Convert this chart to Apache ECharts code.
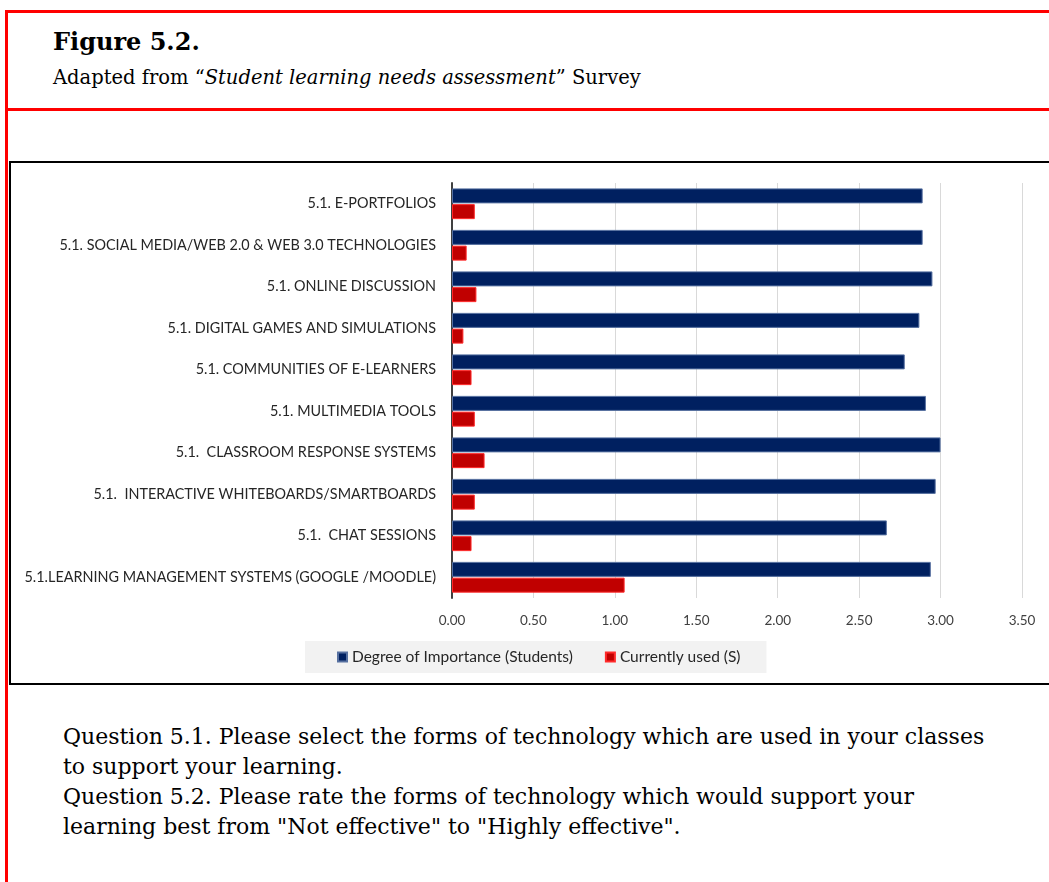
<!DOCTYPE html>
<html>
<head>
<meta charset="utf-8">
<script src="https://cdn.jsdelivr.net/npm/echarts@6/dist/echarts.min.js"></script>
<style>
  html, body { margin: 0; padding: 0; background: #fff; }
  body { width: 1049px; height: 882px; overflow: hidden; position: relative; }
  .frame-top { position: absolute; left: 5px; top: 10px; width: 1100px; height: 3px; background: #ff0000; }
  .frame-sep { position: absolute; left: 5px; top: 108px; width: 1100px; height: 3px; background: #ff0000; }
  .frame-left { position: absolute; left: 5px; top: 10px; width: 3px; height: 900px; background: #ff0000; }
  .title { position: absolute; left: 53px; top: 27px; font-family: "DejaVu Serif", serif; font-weight: bold; font-size: 24px; color: #000; }
  .subtitle { position: absolute; left: 53px; top: 66px; font-family: "DejaVu Serif", serif; font-size: 19.5px; color: #000; white-space: nowrap; }
  .box { position: absolute; left: 9px; top: 161px; width: 1100px; height: 524px; border: 2px solid #000; box-sizing: border-box; }
  #chart { position: absolute; left: 0; top: 0; width: 1096px; height: 520px; }
  .questions { position: absolute; left: 63px; top: 722px; font-family: "DejaVu Serif", serif; font-size: 22px; line-height: 30px; color: #000; white-space: nowrap; }
</style>
</head>
<body>
<div class="frame-top"></div>
<div class="frame-sep"></div>
<div class="frame-left"></div>
<div class="title">Figure 5.2.</div>
<div class="subtitle">Adapted from “<i>Student learning needs assessment</i>” Survey</div>
<div class="box"><div id="chart"></div></div>
<div class="questions">
  Question 5.1. Please select the forms of technology which are used in your classes<br>
  to support your learning.<br>
  Question 5.2. Please rate the forms of technology which would support your<br>
  learning best from "Not effective" to "Highly effective".
</div>
<script>
// Technology forms, listed top to bottom
const categories = [
  '5.1. E-PORTFOLIOS',
  '5.1. SOCIAL MEDIA/WEB 2.0 & WEB 3.0 TECHNOLOGIES',
  '5.1. ONLINE DISCUSSION',
  '5.1. DIGITAL GAMES AND SIMULATIONS',
  '5.1. COMMUNITIES OF E-LEARNERS',
  '5.1. MULTIMEDIA TOOLS',
  '5.1.  CLASSROOM RESPONSE SYSTEMS',
  '5.1.  INTERACTIVE WHITEBOARDS/SMARTBOARDS',
  '5.1.  CHAT SESSIONS',
  '5.1.LEARNING MANAGEMENT SYSTEMS (GOOGLE /MOODLE)'
];
const importance = [2.89, 2.89, 2.95, 2.87, 2.78, 2.91, 3.00, 2.97, 2.67, 2.94];
const currentlyUsed = [0.14, 0.09, 0.15, 0.07, 0.12, 0.14, 0.20, 0.14, 0.12, 1.06];
const seriesNames = ['Degree of Importance (Students)', 'Currently used (S)'];

const chart = echarts.init(document.getElementById('chart'), null, { renderer: 'canvas' });
const labelFont = 'Lato, "Open Sans", sans-serif';

chart.setOption({
  animation: false,
  grid: { left: 441, top: 20, width: 570, height: 415 },
  legend: {
    data: seriesNames,
    left: 294, top: 478,
    backgroundColor: '#f2f2f2',
    padding: [8, 26, 8, 32],
    itemGap: 32,
    itemWidth: 9, itemHeight: 9,
    icon: 'rect',
    textStyle: { fontFamily: labelFont, fontSize: 15.5, color: '#262626' }
  },
  xAxis: {
    type: 'value',
    min: 0, max: 3.5, interval: 0.5,
    axisLine: { show: false },
    axisTick: { show: false },
    splitLine: { lineStyle: { color: '#d9d9d9', width: 1 } },
    axisLabel: {
      formatter: v => v.toFixed(2),
      fontFamily: labelFont, fontSize: 13.5, color: '#404040', margin: 16
    }
  },
  yAxis: {
    type: 'category',
    data: categories,
    inverse: true,
    axisLine: { lineStyle: { color: '#404040', width: 2 } },
    axisTick: { show: false },
    axisLabel: { fontFamily: labelFont, fontSize: 14.4, color: '#262626', margin: 16 }
  },
  series: [
    {
      name: seriesNames[0], type: 'bar', data: importance,
      barWidth: 15, barGap: '5%',
      itemStyle: { color: '#002060', borderColor: '#5670a0', borderWidth: 1 }
    },
    {
      name: seriesNames[1], type: 'bar', data: currentlyUsed,
      barWidth: 15, barGap: '5%',
      itemStyle: { color: '#c00000', borderColor: '#ff2a2a', borderWidth: 1 }
    }
  ]
});
</script>
</body>
</html>
